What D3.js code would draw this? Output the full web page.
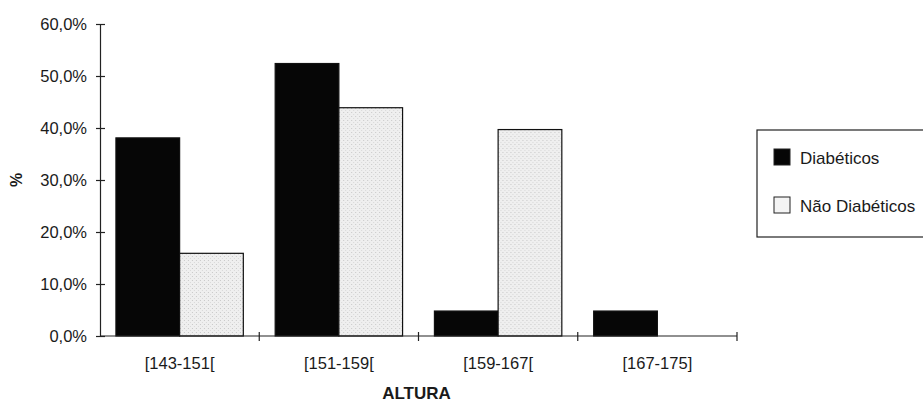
<!DOCTYPE html>
<html>
<head>
<meta charset="utf-8">
<script src="https://cdn.jsdelivr.net/npm/d3@7"></script>
<style>
  html, body { margin: 0; padding: 0; background: #fff; }
  svg { display: block; }
  text { font-family: "Liberation Sans", Arial, sans-serif; fill: #1a1a1a; }
</style>
</head>
<body>
<svg id="chart" width="923" height="402"></svg>
<script>
// Height classes (cm) and share of each group per class
const categories = ["[143-151[", "[151-159[", "[159-167[", "[167-175]"];
const seriesNames = ["Diabéticos", "Não Diabéticos"];
const diabeticos = [38.1, 52.4, 4.8, 4.8];
const naoDiabeticos = [15.9, 43.9, 39.7, 0];
const yTicks = [0, 10, 20, 30, 40, 50, 60];
const xTitle = "ALTURA";
const yTitle = "%";

const seriesValues = [diabeticos, naoDiabeticos];
const fills = ["#060606", "url(#stipple)"];

const svg = d3.select("#chart");
const plot = { left: 100, right: 737, top: 24, bottom: 336 };

// fine grey stipple used for the light bars
const defs = svg.append("defs");
const pat = defs.append("pattern")
  .attr("id", "stipple")
  .attr("patternUnits", "userSpaceOnUse")
  .attr("width", 4).attr("height", 4);
pat.append("rect").attr("width", 4).attr("height", 4).attr("fill", "#efefef");
pat.append("rect").attr("x", 0).attr("y", 0).attr("width", 1).attr("height", 1).attr("fill", "#c8c8c8");
pat.append("rect").attr("x", 2).attr("y", 2).attr("width", 1).attr("height", 1).attr("fill", "#d8d8d8");

const x = d3.scaleBand()
  .domain(categories)
  .range([plot.left, plot.right])
  .paddingInner(0.2)
  .paddingOuter(0.1);

const xSub = d3.scaleBand()
  .domain(d3.range(seriesNames.length))
  .range([0, x.bandwidth()]);

const y = d3.scaleLinear()
  .domain([0, 60])
  .range([plot.bottom, plot.top]);

// bars
const groups = svg.append("g").selectAll("g")
  .data(categories)
  .join("g")
  .attr("transform", d => `translate(${x(d)},0)`);

groups.selectAll("rect")
  .data((c, i) => seriesValues.map((vals, s) => ({ s, v: vals[i] })).filter(d => d.v > 0))
  .join("rect")
  .attr("x", d => xSub(d.s))
  .attr("width", xSub.bandwidth())
  .attr("y", d => y(d.v))
  .attr("height", d => y(0) - y(d.v))
  .attr("fill", d => fills[d.s])
  .attr("stroke", "#111")
  .attr("stroke-width", 1.2);

// y axis with ticks crossing the line
const yAxis = svg.append("g")
  .attr("transform", `translate(${plot.left},0)`)
  .call(d3.axisLeft(y)
    .tickValues(yTicks)
    .tickSize(4)
    .tickPadding(9)
    .tickFormat(d => d3.format(".1f")(d).replace(".", ",") + "%"));
yAxis.select(".domain").attr("stroke", "#222").attr("stroke-width", 1.2);
yAxis.selectAll(".tick line").attr("x2", -4).attr("x1", 5).attr("stroke", "#222").attr("stroke-width", 1.2);
yAxis.selectAll(".tick text").attr("font-size", 16.5).attr("fill", "#1a1a1a")
  .attr("font-family", "'Liberation Sans', Arial, sans-serif").attr("dy", "0.35em");

// x axis: ticks at the category boundaries
const xAxisG = svg.append("g");
xAxisG.append("line")
  .attr("x1", plot.left).attr("x2", plot.right)
  .attr("y1", y(0)).attr("y2", y(0))
  .attr("stroke", "#222").attr("stroke-width", 1.2);
const edges = categories.slice(1).map(c => x(c) - x.step() * x.paddingInner() / 2).concat([plot.right]);
xAxisG.selectAll("line.tick")
  .data(edges)
  .join("line")
  .attr("class", "tick")
  .attr("x1", d => d).attr("x2", d => d)
  .attr("y1", y(0) - 4).attr("y2", y(0) + 5)
  .attr("stroke", "#222").attr("stroke-width", 1.2);
xAxisG.selectAll("text")
  .data(categories)
  .join("text")
  .attr("x", d => x(d) + x.bandwidth() / 2)
  .attr("y", 369)
  .attr("text-anchor", "middle")
  .attr("font-size", 16.5)
  .text(d => d);

// axis titles
svg.append("text")
  .attr("x", (plot.left + plot.right) / 2 - 2)
  .attr("y", 399)
  .attr("text-anchor", "middle")
  .attr("font-size", 17)
  .attr("font-weight", "bold")
  .text(xTitle);

svg.append("text")
  .attr("transform", `translate(22,${y(30)}) rotate(-90)`)
  .attr("text-anchor", "middle")
  .attr("font-size", 16)
  .attr("font-weight", "bold")
  .text(yTitle);

// legend
const legend = svg.append("g");
legend.append("rect")
  .attr("x", 757).attr("y", 130)
  .attr("width", 180).attr("height", 107)
  .attr("fill", "#fff")
  .attr("stroke", "#222").attr("stroke-width", 1.2);
const items = legend.selectAll("g.item")
  .data(seriesNames)
  .join("g")
  .attr("class", "item")
  .attr("transform", (d, i) => `translate(774,${149 + i * 48})`);
items.append("rect")
  .attr("width", 16).attr("height", 16)
  .attr("fill", (d, i) => i === 0 ? "#060606" : "#f4f4f4")
  .attr("stroke", "#222").attr("stroke-width", 1);
items.append("text")
  .attr("x", 26).attr("y", 15)
  .attr("font-size", 17)
  .text(d => d);
</script>
</body>
</html>
